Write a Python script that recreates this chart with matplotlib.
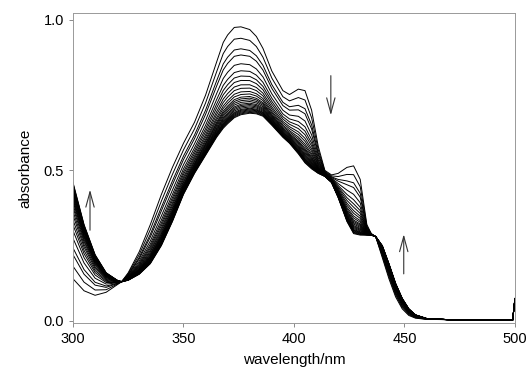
import numpy as np
import matplotlib
matplotlib.use("Agg")
import matplotlib.pyplot as plt

plt.rcParams["font.family"] = ["Liberation Sans", "DejaVu Sans"]

# wavelengths (nm) and the first / last spectrum of the titration
wavelength = np.array([300, 305, 310, 315, 320, 322, 325, 330, 335, 340, 345, 350,
                       355, 360, 365, 368, 370, 373, 376, 380, 383, 386, 390, 395, 398, 402,
                       405, 408, 411, 414, 417, 420, 424, 427, 430, 433, 435, 437,
                       440, 443, 446, 449, 452, 455, 460, 470, 480, 499, 500])
abs_first = np.array([0.14, 0.10, 0.085, 0.095, 0.12, 0.13, 0.16, 0.23, 0.32, 0.42, 0.51, 0.59,
                      0.66, 0.75, 0.86, 0.925, 0.95, 0.975, 0.977, 0.968, 0.945, 0.905, 0.83, 0.765, 0.752, 0.77,
                      0.765, 0.70, 0.58, 0.50, 0.485, 0.49, 0.51, 0.515, 0.47, 0.32, 0.29, 0.28,
                      0.21, 0.14, 0.08, 0.04, 0.018, 0.009, 0.005, 0.004, 0.003, 0.003, 0.075])
abs_last = np.array([0.46, 0.32, 0.22, 0.16, 0.135, 0.13, 0.135, 0.155, 0.19, 0.25, 0.33, 0.42,
                     0.49, 0.55, 0.61, 0.64, 0.655, 0.675, 0.685, 0.69, 0.688, 0.68, 0.65, 0.61, 0.59, 0.555,
                     0.525, 0.505, 0.49, 0.48, 0.46, 0.41, 0.33, 0.29, 0.285, 0.285, 0.285, 0.28,
                     0.25, 0.19, 0.125, 0.075, 0.04, 0.02, 0.008, 0.004, 0.003, 0.003, 0.07])
# fraction of conversion for each recorded spectrum
fractions = [0, 0.13, 0.25, 0.32, 0.42, 0.50, 0.56, 0.61, 0.66, 0.70, 0.74, 0.77,
             0.80, 0.82, 0.84, 0.86, 0.88, 0.895, 0.91, 0.925, 0.94, 0.95, 0.96,
             0.97, 0.98, 0.99, 1.0]

fig = plt.figure(figsize=(5.27, 3.82), dpi=100)
ax = fig.add_axes([0.1385, 0.1545, 0.977 - 0.1385, 0.966 - 0.1545])

for f in fractions:
    ax.plot(wavelength, abs_first + f * (abs_last - abs_first), color="black", lw=0.7)

arrow = dict(arrowstyle="->,head_length=1.1,head_width=0.3", color="#333333", lw=0.8)
ax.annotate("", xy=(307.7, 0.445), xytext=(307.7, 0.292), arrowprops=arrow)
ax.annotate("", xy=(416.7, 0.674), xytext=(416.7, 0.824), arrowprops=arrow)
ax.annotate("", xy=(449.7, 0.297), xytext=(449.7, 0.147), arrowprops=arrow)

ax.set_xlim(300, 500)
ax.set_ylim(-0.007, 1.023)
ax.set_xticks([300, 350, 400, 450, 500])
ax.set_yticks([0.0, 0.5, 1.0])
ax.set_yticklabels(["0.0", "0.5", "1.0"])
ax.tick_params(length=3, width=0.6, color="#777777", labelsize=10.5)
for s in ax.spines.values():
    s.set_color("#999999")
    s.set_linewidth(0.7)
ax.set_xlabel("wavelength/nm", fontsize=11, labelpad=5)
ax.set_ylabel("absorbance", fontsize=11, labelpad=8)

fig.savefig("out.png", dpi=100)
